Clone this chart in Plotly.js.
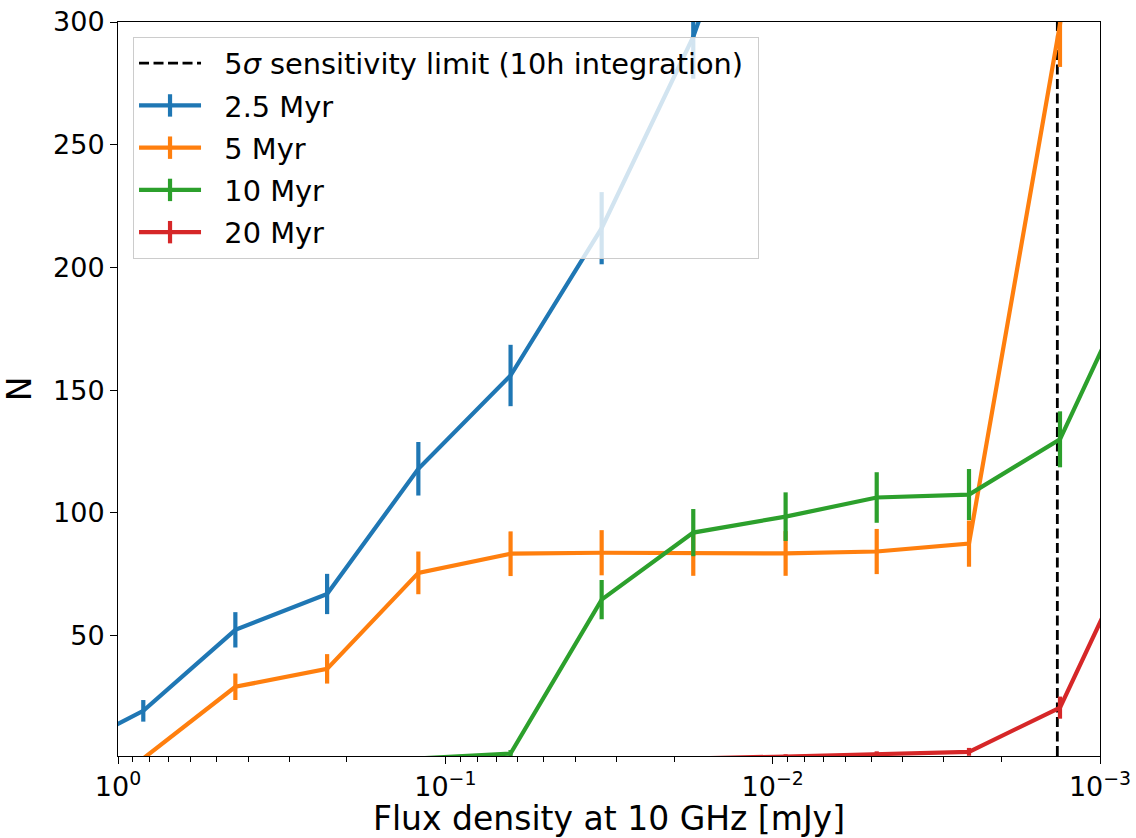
<!DOCTYPE html>
<html>
<head>
<meta charset="utf-8">
<script src="https://cdn.plot.ly/plotly-3.0.1.min.js"></script>
<style>
  html, body { margin: 0; padding: 0; background: #ffffff; }
  #chart { width: 1136px; height: 838px; }
</style>
</head>
<body>
<div id="chart"></div>
<script>
// Flux density bin centres [mJy]
const fluxBins = [1.594, 0.837, 0.438, 0.2297, 0.1209, 0.0632, 0.0333, 0.01748, 0.00913, 0.00481, 0.002513, 0.001325, 0.000696];

// Cumulative counts N per age
const n2p5Myr = [0, 19.4, 52.4, 67, 118, 156, 216, 294, 400, 520, 650, 800, 950];
const n2p5MyrErr = [0, 4.4, 7.2, 8.2, 10.9, 12.5, 14.7, 17.1, 20, 22.8, 25.5, 28.3, 30.8];

const n5Myr = [0, 0, 29.2, 36.5, 75.6, 83.4, 83.8, 83.5, 83.5, 84.3, 87.5, 299, 600];
const n5MyrErr = [0, 0, 5.4, 6, 8.7, 9.1, 9.2, 9.1, 9.1, 9.2, 9.4, 17.3, 24.5];

const n10Myr = [0, 0, 0, 0, 0, 2, 64.7, 92, 98.5, 106.3, 107.5, 130, 210];
const n10MyrErr = [0, 0, 0, 0, 0, 1.4, 8, 9.6, 9.9, 10.3, 10.4, 11.4, 14.5];

const n20Myr = [0, 0, 0, 0, 0, 0, 0, 0, 0.8, 1.6, 2.7, 20.7, 100];
const n20MyrErr = [0, 0, 0, 0, 0, 0, 0, 0, 0.9, 1.3, 1.6, 4.5, 10];

// 5 sigma sensitivity limit (10h integration) [mJy]
const sensLimit = 0.00135;

const seriesNames = ['2.5 Myr', '5 Myr', '10 Myr', '20 Myr'];
const seriesColors = ['#1f77b4', '#ff7f0e', '#2ca02c', '#d62728'];
const seriesValues = [n2p5Myr, n5Myr, n10Myr, n20Myr];
const seriesErrors = [n2p5MyrErr, n5MyrErr, n10MyrErr, n20MyrErr];

const xTickVals = [1, 0.1, 0.01, 0.001];
const xTickText = ['10<sup>0</sup>', '10<sup>\u22121</sup>', '10<sup>\u22122</sup>', '10<sup>\u22123</sup>'];
const yTickVals = [50, 100, 150, 200, 250, 300];

const FONT = 'DejaVu Sans, Liberation Sans, sans-serif';
const PAD = '\u00a0\u00a0';

const traces = [];
// legend entry for the sensitivity limit
traces.push({
  x: [null], y: [null], type: 'scatter', mode: 'lines',
  name: PAD + '5<i>\u03c3</i> sensitivity limit (10h integration)\u00a0',
  line: { color: 'black', width: 2.8, dash: '10px,4.5px' },
  legendgroup: 'g0', hoverinfo: 'skip'
});
seriesNames.forEach((nm, i) => {
  traces.push({
    x: fluxBins, y: seriesValues[i], type: 'scatter', mode: 'lines',
    name: nm, showlegend: false, legendgroup: 'g' + (i + 1),
    line: { color: seriesColors[i], width: 4.2 },
    error_y: { type: 'data', array: seriesErrors[i], visible: true,
               color: seriesColors[i], thickness: 4.2, width: 0 },
    cliponaxis: true
  });
});
seriesNames.forEach((nm, i) => {
  traces.push({
    x: [null], y: [null], type: 'scatter', mode: 'lines+markers',
    name: PAD + nm, legendgroup: 'g' + (i + 1),
    line: { color: seriesColors[i], width: 4.2 },
    marker: { symbol: 'line-ns', size: 16, color: seriesColors[i],
              line: { color: seriesColors[i], width: 4.2 } },
    hoverinfo: 'skip'
  });
});

const layout = {
  width: 1136, height: 838,
  margin: { l: 118, r: 36, t: 22, b: 82 },
  paper_bgcolor: 'white', plot_bgcolor: 'white',
  font: { family: FONT, size: 27, color: 'black' },
  showlegend: true,
  legend: {
    x: 0.0153, y: 0.9796, xanchor: 'left', yanchor: 'top',
    bgcolor: 'rgba(255,255,255,0.8)', bordercolor: '#cccccc', borderwidth: 1,
    font: { family: FONT, size: 28.8, color: 'black' },
    traceorder: 'grouped', tracegroupgap: 1.8, itemwidth: 62
  },
  xaxis: {
    type: 'log', range: [0, -3], autorange: false,
    tickmode: 'array', tickvals: xTickVals, ticktext: xTickText,
    ticks: 'outside', ticklen: 7, tickwidth: 1, tickcolor: 'black',
    minor: { ticks: 'outside', ticklen: 4.5, tickwidth: 1, tickcolor: 'black', dtick: 'D1' },
    showline: true, linecolor: 'black', linewidth: 1, mirror: true,
    showgrid: false, zeroline: false,
    tickfont: { family: FONT, size: 27 },
    title: { text: 'Flux density at 10 GHz [mJy]', font: { family: FONT, size: 33 }, standoff: 13 }
  },
  yaxis: {
    range: [1, 300], autorange: false,
    tickmode: 'array', tickvals: yTickVals,
    ticks: 'outside', ticklen: 7, tickwidth: 1, tickcolor: 'black',
    showline: true, linecolor: 'black', linewidth: 1, mirror: true,
    showgrid: false, zeroline: false,
    tickfont: { family: FONT, size: 27 },
    title: { text: 'N', font: { family: FONT, size: 33 }, standoff: 12 }
  },
  shapes: [{
    type: 'line', xref: 'x', yref: 'paper',
    x0: sensLimit, x1: sensLimit, y0: 0, y1: 1,
    line: { color: 'black', width: 2.8, dash: '10px,4.5px' },
    layer: 'below'
  }]
};

Plotly.newPlot('chart', traces, layout, { displayModeBar: false, staticPlot: true });
</script>
</body>
</html>
